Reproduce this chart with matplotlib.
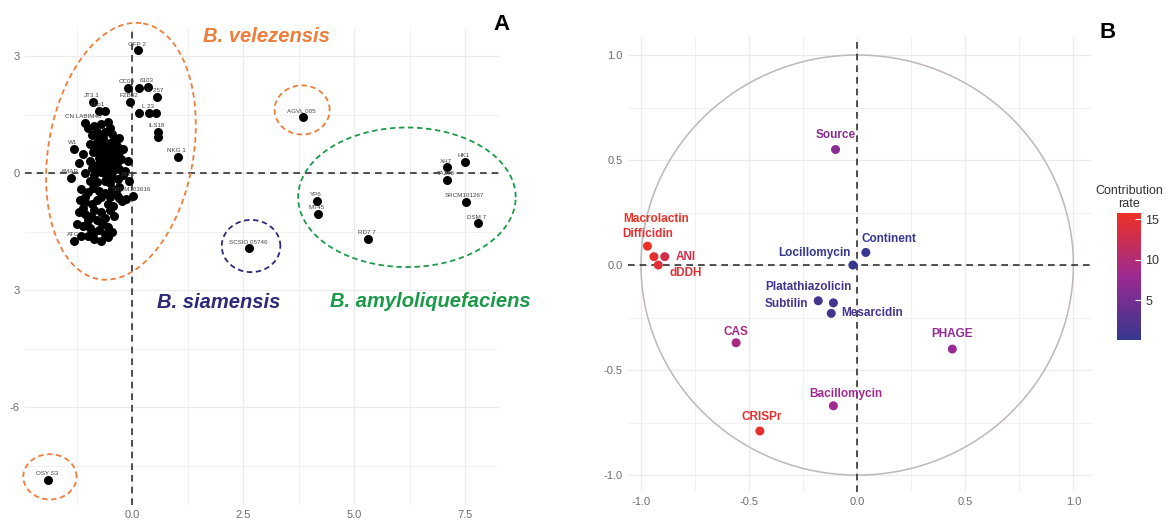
"""
plot.py - PCA of Bacillus strains (A) and variable correlation circle (B).
"""

import numpy as np
import matplotlib
matplotlib.use("Agg")
import matplotlib.pyplot as plt
from matplotlib.colors import LinearSegmentedColormap, Normalize
from matplotlib.cm import ScalarMappable

plt.rcParams["font.family"] = ["Liberation Sans", "DejaVu Sans"]

# ─── Panel A data: strain PCA scores ─────────────────────────────────────────

# labelled strains
strain_names = [
    "GFP 2", "CC09", "", "6103", "E 257", "FZB42", "", "L 23", "",
    "ILS18", "", "NKG 1", "JT3.1", "LFp1", "", "CN LABIM40", "W1",
    "AMAR", "1413", "SRCM103616", "ATC",
    "AGVL 005", "SCSIO 05746", "OSY S3",
    "XH7", "HK1", "TA208", "SRCM101267", "DSM 7", "YP6", "MT45", "RD7 7",
]
strain_x = [
    0.13, -0.09, 0.16, 0.36, 0.56, -0.05, 0.16, 0.38, 0.54,
    0.59, 0.59, 1.04, -0.88, -0.74, -0.61, -1.06, -1.31,
    -1.37, -0.07, 0.02, -1.31,
    3.84, 2.64, -1.89,
    7.09, 7.50, 7.09, 7.52, 7.80, 4.17, 4.18, 5.32,
]
strain_y = [
    3.15, 2.18, 2.18, 2.22, 1.95, 1.83, 1.54, 1.54, 1.54,
    1.05, 0.92, 0.41, 1.82, 1.59, 1.59, 1.28, 0.62,
    -0.13, -0.20, -0.59, -1.74,
    1.43, -1.93, -7.87,
    0.15, 0.29, -0.18, -0.74, -1.29, -0.71, -1.05, -1.69,
]

# unlabelled strains in the dense B. velezensis core
core_x = [
    -1.00, -0.85, -0.70, -0.55, -0.60, -0.90, -0.75, -0.45, -0.30,
    -0.95, -0.80, -0.65, -0.50, -0.35, -0.20,
    -1.10, -0.88, -0.72, -0.60, -0.48, -0.38, -0.25, -0.10,
    -1.20, -0.95, -0.80, -0.68, -0.55, -0.42, -0.30, -0.15,
    -1.05, -0.85, -0.70, -0.58, -0.45, -0.32, -0.62,
    -1.15, -1.00, -0.88, -0.75, -0.60, -0.45, -0.35,
    -1.18, -1.05, -0.90, -0.78, -0.55, -0.42, -0.23, -0.14,
    -1.20, -1.05, -0.92, -0.70, -0.60, -0.80,
    -1.25, -1.10, -0.95, -0.75, -0.55, -0.65,
    -1.00, -0.85, -0.70, -0.55, -0.90,
    -0.80, -0.50, -0.65, -0.40, -0.55, -0.70, -0.85, -0.45, -0.30,
    -0.60, -0.75, -0.50, -0.35, -0.90, -0.75, -0.60, -0.45, -0.20,
    -0.95, -0.80, -0.50, -0.30, -1.05, -0.70, -0.50, -0.30,
    -1.10, -0.85, -0.50, -0.40, -1.00, -0.70, -0.85, -0.60, -1.15, -0.45,
]
core_y = [
    1.15, 1.20, 1.25, 1.30, 1.05, 0.98, 0.95, 1.00, 0.90,
    0.75, 0.80, 0.72, 0.78, 0.70, 0.62,
    0.50, 0.55, 0.50, 0.45, 0.52, 0.40, 0.35, 0.30,
    0.25, 0.30, 0.22, 0.28, 0.20, 0.15, 0.10, 0.05,
    0.00, -0.05, 0.02, -0.05, -0.10, -0.15, -0.20,
    -0.40, -0.48, -0.38, -0.45, -0.50, -0.40, -0.55,
    -0.70, -0.75, -0.80, -0.68, -0.78, -0.85, -0.72, -0.67,
    -1.00, -1.05, -1.10, -1.00, -1.15, -1.20,
    -1.30, -1.35, -1.40, -1.45, -1.38, -1.30,
    -1.62, -1.70, -1.75, -1.65, -1.55,
    1.05, 1.15, 0.90, 0.85, 0.62, 0.62, 0.68, 0.65, 0.55,
    0.35, 0.38, 0.35, 0.25, 0.12, 0.10, 0.08, 0.03, -0.05,
    -0.20, -0.22, -0.25, -0.35, -0.60, -0.60, -0.62, -0.65,
    -0.90, -0.95, -0.95, -1.10, -1.20, -1.25, -1.50, -1.55, -1.60, -1.50,
]

a_xticks = [0.0, 2.5, 5.0, 7.5]
a_xticklabels = ["0.0", "2.5", "5.0", "7.5"]
a_yticks = [-6, -3, 0, 3]
a_yticklabels = ["-6", "3", "0", "3"]

# ─── Panel B data: variable coordinates and contribution ─────────────────────

var_names = [
    "Source", "Macrolactin", "Difficidin", "ANI", "dDDH", "Locillomycin",
    "Continent", "Platathiazolicin", "Subtilin", "Mesarcidin", "CAS",
    "PHAGE", "Bacillomycin", "CRISPr",
]
var_x = [-0.10, -0.97, -0.94, -0.89, -0.92, -0.02, 0.04, -0.11, -0.18,
         -0.12, -0.56, 0.44, -0.11, -0.45]
var_y = [0.55, 0.09, 0.04, 0.04, 0.00, 0.00, 0.06, -0.18, -0.17,
         -0.23, -0.37, -0.40, -0.67, -0.79]
var_contrib = [6.5, 15.8, 14.9, 13.3, 14.2, 0.1, 0.3, 1.1, 1.2,
               1.1, 9.0, 7.5, 8.2, 15.0]

b_ticks = [-1.0, -0.5, 0.0, 0.5, 1.0]
b_ticklabels = ["-1.0", "-0.5", "0.0", "0.5", "1.0"]
cbar_ticks = [5, 10, 15]

# ─── Styling ─────────────────────────────────────────────────────────────────

ORANGE = "#EE7D3B"
NAVY = "#2E2A78"
GREEN = "#1C9A4A"
GRID = "#EBEBEB"
TICK = "#6E6E6E"


def minimal_axes(ax, major_x, major_y, minor_x, minor_y):
    for s in ax.spines.values():
        s.set_visible(False)
    ax.set_xticks(major_x)
    ax.set_yticks(major_y)
    ax.set_xticks(minor_x, minor=True)
    ax.set_yticks(minor_y, minor=True)
    ax.grid(True, which="major", color=GRID, lw=0.9, zorder=0)
    ax.grid(True, which="minor", color=GRID, lw=0.5, zorder=0)
    ax.tick_params(which="both", length=0, labelsize=8, colors=TICK, pad=4)
    ax.set_axisbelow(True)


def dashed_ellipse(ax, centre, va, vb, color):
    t = np.linspace(0, 2 * np.pi, 240)
    xs = centre[0] + np.cos(t) * va[0] + np.sin(t) * vb[0]
    ys = centre[1] + np.cos(t) * va[1] + np.sin(t) * vb[1]
    ax.plot(xs, ys, color=color, lw=1.3, ls=(0, (3, 2)), clip_on=False, zorder=1)


fig = plt.figure(figsize=(11.76, 5.2), dpi=100)

# ─── Panel A ─────────────────────────────────────────────────────────────────

ax1 = fig.add_axes([0.0213, 0.029, 0.404, 0.917])
minimal_axes(ax1, a_xticks, a_yticks, [-1.25, 1.25, 3.75, 6.25], [-7.5, -4.5, -1.5, 1.5])
ax1.set_xticklabels(a_xticklabels)
ax1.set_yticklabels(a_yticklabels)
ax1.set_xlim(-2.41, 8.29)
ax1.set_ylim(-8.51, 3.72)

ax1.axhline(0, color="#333333", lw=1.2, ls=(0, (4, 3)), zorder=1)
ax1.axvline(0, color="#333333", lw=1.2, ls=(0, (4, 3)), zorder=1)

ax1.scatter(core_x, core_y, s=42, color="black", zorder=3, lw=0)
ax1.scatter(strain_x, strain_y, s=42, color="black", zorder=3, lw=0)
for name, x, y in zip(strain_names, strain_x, strain_y):
    if name:
        ax1.annotate(name, (x, y), xytext=(-1, 4.5), textcoords="offset points",
                     ha="center", va="center", fontsize=4.5, color="#444444", zorder=4)

dashed_ellipse(ax1, (-0.25, 0.56), (0.50, 3.28), (1.61, -0.315), ORANGE)
dashed_ellipse(ax1, (3.83, 1.62), (0.62, 0), (0, 0.63), ORANGE)
dashed_ellipse(ax1, (-1.85, -7.79), (0.60, 0), (0, 0.58), ORANGE)
dashed_ellipse(ax1, (2.68, -1.87), (0.66, 0), (0, 0.67), NAVY)
dashed_ellipse(ax1, (6.19, -0.62), (2.45, 0), (0, 1.79), GREEN)

grp_font = dict(fontsize=14.5, fontweight="bold", fontstyle="italic")
ax1.text(3.02, 3.5, "B. velezensis", color=ORANGE, ha="center", va="center", **grp_font)
ax1.text(1.94, -3.33, "B. siamensis", color=NAVY, ha="center", va="center", **grp_font)
ax1.text(6.71, -3.3, "B. amyloliquefaciens", color=GREEN, ha="center", va="center", **grp_font)

fig.text(501 / 1176, 1 - 25 / 520, "A", fontsize=16, fontweight="bold",
         ha="center", va="center")

# ─── Panel B ─────────────────────────────────────────────────────────────────

ax2 = fig.add_axes([0.534, 0.054, 0.394, 0.875])
minimal_axes(ax2, b_ticks, b_ticks, [-0.75, -0.25, 0.25, 0.75], [-0.75, -0.25, 0.25, 0.75])
ax2.set_xticklabels(b_ticklabels)
ax2.set_yticklabels(b_ticklabels)
ax2.set_xlim(-1.06, 1.083)
ax2.set_ylim(-1.08, 1.086)

theta = np.linspace(0, 2 * np.pi, 300)
ax2.plot(np.cos(theta), np.sin(theta), color="#BFB7B7", lw=1.1, zorder=1)
ax2.axhline(0, color="#333333", lw=1.2, ls=(0, (4, 3)), zorder=1)
ax2.axvline(0, color="#333333", lw=1.2, ls=(0, (4, 3)), zorder=1)

cmap = LinearSegmentedColormap.from_list(
    "contrib", ["#35378F", "#9C2A92", "#EE3124"])
norm = Normalize(vmin=min(var_contrib), vmax=max(var_contrib))
ax2.scatter(var_x, var_y, c=var_contrib, cmap=cmap, norm=norm, s=42, lw=0, zorder=3)

# label offsets in points
label_off = {
    "Source": (0, 10.5), "Macrolactin": (6.5, 19.5), "Difficidin": (-4.3, 16.5),
    "ANI": (15, 0), "dDDH": (19.4, -5.8), "Locillomycin": (-28, 8.5),
    "Continent": (16.5, 9.5), "Platathiazolicin": (-18, 11.5), "Subtilin": (-23, -2),
    "Mesarcidin": (29.5, 0), "CAS": (0, 8), "PHAGE": (0, 10.8),
    "Bacillomycin": (8.6, 8.6), "CRISPr": (1, 10),
}
for name, x, y, c in zip(var_names, var_x, var_y, var_contrib):
    ax2.annotate(name, (x, y), xytext=label_off[name], textcoords="offset points",
                 ha="center", va="center", fontsize=8.5, fontweight="bold",
                 color=cmap(norm(c)), zorder=4)

fig.text(1108 / 1176, 1 - 33 / 520, "B", fontsize=16, fontweight="bold",
         ha="center", va="center")

# colour bar
cax = fig.add_axes([1117 / 1176, 1 - 340 / 520, 24 / 1176, 127 / 520])
cb = fig.colorbar(ScalarMappable(norm=norm, cmap=cmap), cax=cax, ticks=cbar_ticks)
cb.outline.set_visible(False)
cax.tick_params(color="white", direction="in", length=4, width=0.8,
                labelsize=9, labelcolor="#333333", pad=3)
cax.set_title("Contribution\nrate", fontsize=9, color="#333333", pad=4)

plt.savefig("out.png", dpi=100)
plt.close(fig)
